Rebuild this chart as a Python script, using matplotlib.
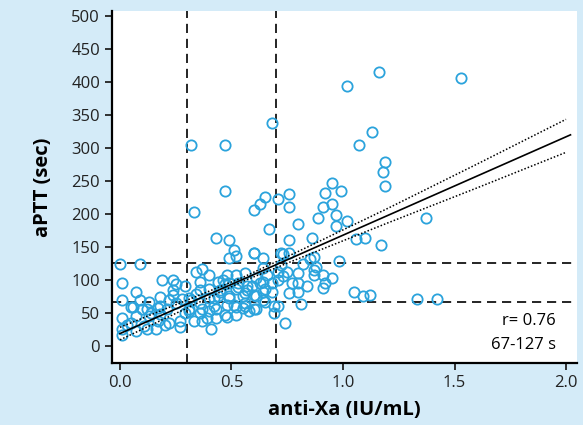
import matplotlib.pyplot as plt

# ------------- data -------------
anti_xa = [
    0.00, 0.09, 0.01, 0.01, 0.01, 0.01, 0.01, 0.07, 0.05, 0.09, 0.07, 0.07, 0.05, 0.12, 0.16, 0.13,
    0.12, 0.13, 0.18, 0.19, 0.24, 0.25, 0.24, 0.24, 0.22, 0.18, 0.17, 0.21, 0.25, 0.29, 0.28, 0.29,
    0.27, 0.22, 0.20, 0.27, 0.32, 0.34, 0.36, 0.33, 0.31, 0.10, 0.06, 0.14, 0.11, 0.17, 0.03, 0.18,
    0.37, 0.36, 0.34, 0.36, 0.36, 0.37, 0.41, 0.40, 0.40, 0.40, 0.43, 0.43, 0.44, 0.46, 0.48, 0.47,
    0.45, 0.44, 0.47, 0.48, 0.49, 0.49, 0.52, 0.52, 0.52, 0.52, 0.52, 0.56, 0.56, 0.57, 0.59, 0.60,
    0.64, 0.64, 0.61, 0.56, 0.61, 0.64, 0.64, 0.65, 0.68, 0.69, 0.71, 0.40, 0.61, 0.66, 0.49, 0.53,
    0.63, 0.71, 0.45, 0.53, 0.57, 0.65, 0.68, 0.42, 0.49, 0.55, 0.60, 0.64, 0.42, 0.51, 0.56, 0.60,
    0.69, 0.37, 0.39, 0.48, 0.55, 0.58, 0.31, 0.31,
    0.32, 0.47, 0.47, 0.33, 0.65, 0.63, 0.60, 0.71, 0.67, 0.43, 0.49, 0.51, 0.60, 0.72, 0.68,
    0.76, 0.76, 0.76, 0.80, 0.72, 0.73, 0.87, 0.98, 0.82, 0.88, 0.87, 0.91, 0.95, 0.80, 0.75, 0.73,
    0.71, 0.80, 0.92, 0.84, 0.80, 0.91, 0.76, 1.05, 1.09, 1.12, 0.81, 0.74, 0.76, 0.85, 0.86, 1.06,
    1.10, 1.17, 1.02, 0.97, 0.97, 0.91, 0.95, 0.89, 0.95, 0.92, 0.99, 1.37, 1.33, 1.42, 1.02, 1.16,
    1.53, 1.13, 1.07, 1.19, 1.18, 1.19, 0.77, 0.87,
]
aptt = [
    125, 125, 96, 71, 43, 27, 18, 83, 59, 71, 46, 23, 35, 26, 27, 46,
    56, 67, 75, 100, 100, 95, 85, 78, 71, 49, 58, 56, 66, 92, 72, 51,
    38, 36, 33, 29, 71, 112, 98, 38, 53, 56, 60, 51, 31, 38, 33, 61,
    117, 86, 79, 66, 51, 39, 26, 87, 73, 54, 43, 56, 97, 101, 108, 94,
    83, 76, 48, 63, 76, 134, 137, 108, 87, 60, 48, 111, 66, 91, 91, 141,
    134, 119, 56, 81, 77, 97, 83, 68, 96, 51, 61, 108, 103, 108, 96, 96,
    96, 101, 86, 90, 86, 87, 83, 73, 73, 76, 78, 71, 61, 63, 62, 57,
    61, 56, 43, 45, 58, 53, 73, 57,
    305, 305, 235, 203, 227, 216, 207, 223, 178, 165, 161, 146, 142, 142, 338,
    231, 211, 161, 186, 124, 140, 136, 130, 125, 121, 116, 108, 104, 111, 112, 107,
    113, 96, 96, 92, 83, 88, 81, 83, 76, 78, 64, 35, 141, 132, 165, 162,
    165, 154, 190, 199, 182, 211, 216, 194, 248, 232, 235, 194, 72, 72, 395, 415,
    407, 325, 305, 280, 264, 243, 96, 108,
]

# regression line and its confidence band
fit_x = [0.0, 2.02]
fit_y = [19.5, 320.5]
band_x = [0.0, 0.3, 0.55, 0.8, 1.2, 1.6, 2.0]
band_upper = [29, 70, 104.5, 144, 209, 276, 344]
band_lower = [10, 58, 98.5, 133, 187, 240, 294]

cut_x = [0.3, 0.7]
cut_y = [67, 127]

bg = '#d4ebf8'
blue = '#2ba3dc'

plt.rcParams['font.family'] = ['Open Sans', 'DejaVu Sans']

fig = plt.figure(figsize=(5.83, 4.25), dpi=100, facecolor=bg)
ax = fig.add_axes([0.192, 0.146, 0.798, 0.828])
ax.set_facecolor('white')

dash = (0, (5.5, 3.5))
for v in cut_x:
    ax.axvline(v, color='black', lw=1.2, ls=dash, zorder=1)
for h in cut_y:
    ax.axhline(h, color='black', lw=1.2, ls=dash, zorder=1)

ax.plot(anti_xa, aptt, 'o', ms=7.4, mfc='none', mec=blue, mew=1.3, zorder=2)

ax.plot(fit_x, fit_y, color='black', lw=1.2, zorder=3)
ax.plot(band_x, band_upper, color='black', lw=1.1, ls=(0, (1, 1.3)), zorder=3)
ax.plot(band_x, band_lower, color='black', lw=1.1, ls=(0, (1, 1.3)), zorder=3)

ax.set_xlim(-0.036, 2.05)
ax.set_ylim(-25, 508)
ax.set_xticks([0.0, 0.5, 1.0, 1.5, 2.0])
ax.set_xticklabels(['0.0', '0.5', '1.0', '1.5', '2.0'])
ax.set_yticks(range(0, 501, 50))

for s in ['top', 'right']:
    ax.spines[s].set_visible(False)
for s in ['left', 'bottom']:
    ax.spines[s].set_linewidth(1.6)
ax.tick_params(direction='out', length=5, width=1.3, labelsize=12, colors='#222222')

ax.set_xlabel('anti-Xa (IU/mL)', fontsize=14.5, fontweight='bold', labelpad=7)
ax.set_ylabel('aPTT (sec)', fontsize=14.5, fontweight='bold', labelpad=13)

ax.text(0.955, 0.118, 'r= 0.76', transform=ax.transAxes, ha='right', va='center', fontsize=12)
ax.text(0.955, 0.052, '67-127 s', transform=ax.transAxes, ha='right', va='center', fontsize=12)

fig.savefig('out.png', dpi=100, facecolor=bg)
